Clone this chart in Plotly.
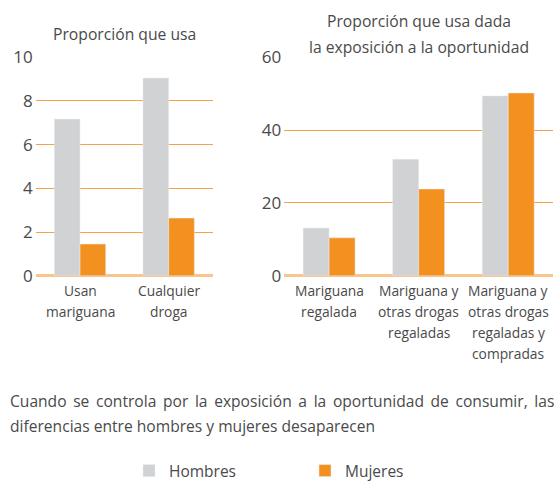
import plotly.graph_objects as go

W, H = 554, 481

# Data
cats_left = ["Usan<br>mariguana", "Cualquier<br>droga"]
hombres_left = [7.17, 9.05]
mujeres_left = [1.45, 2.64]

cats_right = ["Mariguana<br>regalada",
              "Mariguana y<br>otras drogas<br>regaladas",
              "Mariguana y<br>otras drogas<br>regaladas y<br>compradas"]
hombres_right = [13.1, 32.0, 49.4]
mujeres_right = [10.4, 23.8, 50.2]

series_names = ["Hombres", "Mujeres"]
title_left = "Proporción que usa"
title_right = ["Proporción que usa dada", "la exposición a la oportunidad"]
note_line1 = "Cuando se controla por la exposición a la oportunidad de consumir, las"
note_line2 = "diferencias entre hombres y mujeres desaparecen"

GRAY = "#d1d2d4"
ORANGE = "#f39120"
GRID = "#f3a24a"
ZERO = "#f9c58a"
TXT = "#4a4a4a"
FONT = "Open Sans"

def px(x):
    return x / W

def py(y):
    return 1 - y / H

fig = go.Figure()
fig.add_trace(go.Bar(x=cats_left, y=hombres_left, name=series_names[0],
                     marker_color=GRAY, xaxis="x", yaxis="y", legendgroup="h"))
fig.add_trace(go.Bar(x=cats_left, y=mujeres_left, name=series_names[1],
                     marker_color=ORANGE, xaxis="x", yaxis="y", legendgroup="m"))
fig.add_trace(go.Bar(x=cats_right, y=hombres_right, name=series_names[0],
                     marker_color=GRAY, xaxis="x2", yaxis="y2", showlegend=False,
                     legendgroup="h"))
fig.add_trace(go.Bar(x=cats_right, y=mujeres_right, name=series_names[1],
                     marker_color=ORANGE, xaxis="x2", yaxis="y2", showlegend=False,
                     legendgroup="m"))

axis_common_y = dict(showgrid=True, gridcolor=GRID, gridwidth=1,
                     zeroline=True, zerolinecolor=ZERO, zerolinewidth=2.5,
                     showline=False, ticks="", tickfont=dict(size=17, color=TXT, family=FONT),
                     ticklabelstandoff=2, fixedrange=True, automargin=False)
axis_common_x = dict(showgrid=False, showline=False, ticks="", automargin=False,
                     showticklabels=False, fixedrange=True)

annotations = []
TITLE_SIZE = 15.7
annotations.append(dict(text=title_left, x=px(125), y=py(34), xref="paper", yref="paper",
                        xanchor="center", yanchor="middle", showarrow=False,
                        font=dict(size=TITLE_SIZE, color=TXT, family=FONT)))
for i, line in enumerate(title_right):
    annotations.append(dict(text=line, x=px(419), y=py(21 + 26 * i), xref="paper",
                            yref="paper", xanchor="center", yanchor="middle",
                            showarrow=False,
                            font=dict(size=TITLE_SIZE, color=TXT, family=FONT)))

# category labels with the reference's looser line spacing
for xref, cats in (("x", cats_left), ("x2", cats_right)):
    for c in cats:
        for j, line in enumerate(c.split("<br>")):
            annotations.append(dict(text=line, x=c, xref=xref, y=py(290 + 21.3 * j),
                                    yref="paper", xanchor="center", yanchor="middle",
                                    showarrow=False,
                                    font=dict(size=13.8, color=TXT, family=FONT)))

NOTE_SIZE = 15.6
annotations.append(dict(text=note_line1.replace(" ", " \u2009"), x=px(8), y=py(401),
                        xref="paper", yref="paper", xanchor="left", yanchor="middle",
                        showarrow=False, font=dict(size=NOTE_SIZE, color=TXT, family=FONT)))
annotations.append(dict(text=note_line2, x=px(8), y=py(426), xref="paper", yref="paper",
                        xanchor="left", yanchor="middle", showarrow=False,
                        font=dict(size=NOTE_SIZE, color=TXT, family=FONT)))

fig.update_layout(
    width=W, height=H,
    margin=dict(l=0, r=0, t=0, b=0, autoexpand=False),
    paper_bgcolor="white", plot_bgcolor="white",
    barmode="group", bargap=0.42, bargroupgap=0,
    font=dict(family=FONT, color=TXT),
    xaxis=dict(domain=[px(35.7), px(213)], anchor="y", **axis_common_x),
    yaxis=dict(domain=[py(275.7), py(57.3)], anchor="x", range=[0, 10], dtick=2,
               **axis_common_y),
    xaxis2=dict(domain=[px(284.3), px(553)], anchor="y2", **axis_common_x),
    yaxis2=dict(domain=[py(275.7), py(57.3)], anchor="x2", range=[0, 60], dtick=20,
                **axis_common_y),
    legend=dict(orientation="h", x=px(129), y=py(471), xanchor="left", yanchor="middle",
                entrywidth=131, entrywidthmode="pixels",
                font=dict(size=15.5, color=TXT, family=FONT), itemclick=False,
                itemdoubleclick=False),
    annotations=annotations,
)

fig.write_html("out.html", config={"displayModeBar": False},
               post_script="document.body.style.margin='0';document.body.style.padding='0';")
